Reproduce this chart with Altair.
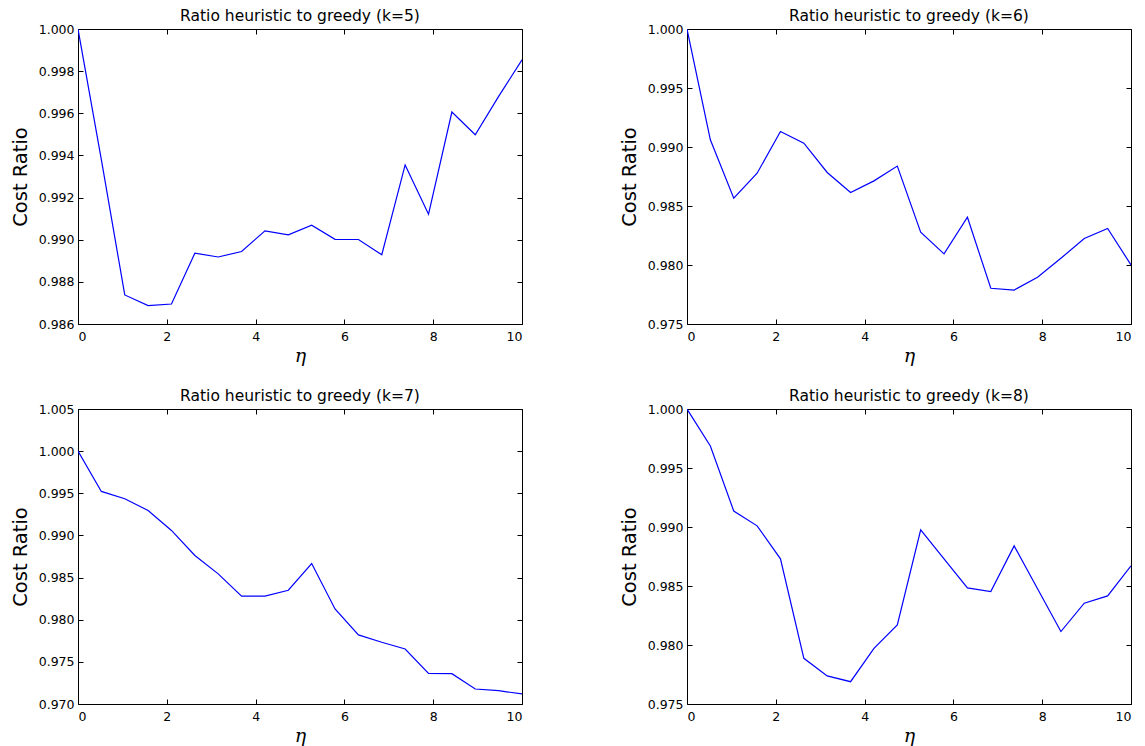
import altair as alt
import pandas as pd

eta = [0.0, 0.526, 1.053, 1.579, 2.105, 2.632, 3.158, 3.684, 4.211, 4.737,
       5.263, 5.789, 6.316, 6.842, 7.368, 7.895, 8.421, 8.947, 9.474, 10.0]

ratio_k5 = [1.0000, 0.9938, 0.98738, 0.98687, 0.98695, 0.98936, 0.98918, 0.98944,
            0.99042, 0.99023, 0.99069, 0.99002, 0.99001, 0.98929, 0.99355, 0.99121,
            0.99606, 0.99498, 0.99680, 0.99854]
ratio_k6 = [1.0000, 0.99061, 0.98566, 0.98778, 0.99132, 0.99033, 0.98784, 0.98614,
            0.98713, 0.98838, 0.98278, 0.98094, 0.98405, 0.97803, 0.97788, 0.97896,
            0.98057, 0.98224, 0.98309, 0.98001]
ratio_k7 = [1.0000, 0.99522, 0.99435, 0.99296, 0.99059, 0.98762, 0.98544, 0.98279,
            0.98279, 0.98350, 0.98667, 0.98128, 0.97820, 0.97733, 0.97653, 0.97364,
            0.97360, 0.97178, 0.97158, 0.97119]
ratio_k8 = [1.0000, 0.99686, 0.99135, 0.99010, 0.98730, 0.97887, 0.97738, 0.97689,
            0.97972, 0.98170, 0.98976, 0.98730, 0.98484, 0.98453, 0.98840, 0.98476,
            0.98114, 0.98354, 0.98416, 0.98671]

titles = ["Ratio heuristic to greedy (k=5)", "Ratio heuristic to greedy (k=6)",
          "Ratio heuristic to greedy (k=7)", "Ratio heuristic to greedy (k=8)"]

x_ticks = [0, 2, 4, 6, 8, 10]
y_ticks_k5 = [0.986, 0.988, 0.990, 0.992, 0.994, 0.996, 0.998, 1.000]
y_ticks_k6 = [0.975, 0.980, 0.985, 0.990, 0.995, 1.000]
y_ticks_k7 = [0.970, 0.975, 0.980, 0.985, 0.990, 0.995, 1.000, 1.005]
y_ticks_k8 = [0.975, 0.980, 0.985, 0.990, 0.995, 1.000]

W, H = 444, 295
FONT = "DejaVu Sans"


def panel(vals, title, yticks):
    df = pd.DataFrame({"eta": eta, "ratio": vals})
    xs = alt.Scale(domain=[x_ticks[0], x_ticks[-1]], nice=False, zero=False)
    ys = alt.Scale(domain=[yticks[0], yticks[-1]], nice=False, zero=False)
    base = alt.Chart(df)
    main = base.mark_line(color="#0000ff", strokeWidth=1.2, clip=True).encode(
        x=alt.X("eta:Q", scale=xs, axis=alt.Axis(
            values=x_ticks, format="d", title="η", orient="bottom", ticks=False,
            domain=False, grid=False, labelPadding=6, labelFont=FONT, labelFontSize=12.5,
            labelColor="#000", titleFont="DejaVu Serif", titleFontStyle="italic",
            titleFontSize=19, titleFontWeight="normal", titleColor="#000", titlePadding=4)),
        y=alt.Y("ratio:Q", scale=ys, axis=alt.Axis(
            values=yticks, format=".3f", title="Cost Ratio", orient="left", ticks=False,
            domain=False, grid=False, labelPadding=4, labelFont=FONT, labelFontSize=12.5,
            labelColor="#000", titleFont=FONT, titleFontSize=19.5, titleFontWeight="normal",
            titleColor="#000", titlePadding=8)),
    )
    t1 = base.mark_line(opacity=0).encode(
        x=alt.X("eta:Q", scale=xs, axis=alt.Axis(
            values=x_ticks, orient="bottom", labels=False, title="", tickSize=5,
            tickColor="#000", domain=False, grid=False, offset=-5)),
        y=alt.Y("ratio:Q", scale=ys, axis=alt.Axis(
            values=yticks, orient="left", labels=False, title="", tickSize=5,
            tickColor="#000", domain=False, grid=False, offset=-5)),
    )
    t2 = base.mark_line(opacity=0).encode(
        x=alt.X("eta:Q", scale=xs, axis=alt.Axis(
            values=x_ticks, orient="top", labels=False, title="", tickSize=5,
            tickColor="#000", domain=False, grid=False, offset=-5)),
        y=alt.Y("ratio:Q", scale=ys, axis=alt.Axis(
            values=yticks, orient="right", labels=False, title="", tickSize=5,
            tickColor="#000", domain=False, grid=False, offset=-5)),
    )
    return alt.layer(main, t1, t2).resolve_axis(x="independent", y="independent").properties(
        width=W, height=H,
        title=alt.TitleParams(title, font=FONT, fontSize=15.5, fontWeight="normal",
                              color="#000", anchor="middle", offset=-1),
    )


p1 = panel(ratio_k5, titles[0], y_ticks_k5)
p2 = panel(ratio_k6, titles[1], y_ticks_k6)
p3 = panel(ratio_k7, titles[2], y_ticks_k7)
p4 = panel(ratio_k8, titles[3], y_ticks_k8)

chart = alt.vconcat(
    alt.hconcat(p1, p2, spacing=95),
    alt.hconcat(p3, p4, spacing=95),
    spacing=22,
).properties(
    padding={"left": 1, "top": 0, "right": 0, "bottom": 0},
    background="white",
).configure_view(stroke="#000000", strokeWidth=1)

chart.save("out.html", embed_options={"renderer": "svg", "actions": False})
